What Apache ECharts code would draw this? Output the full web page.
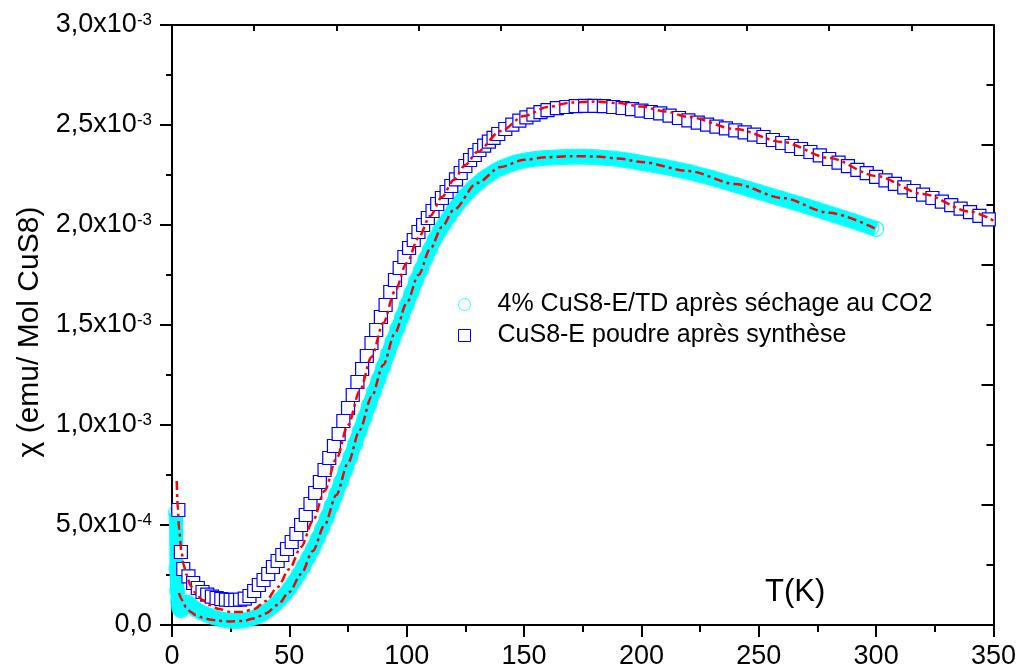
<!DOCTYPE html>
<html><head><meta charset="utf-8">
<script src="https://cdn.jsdelivr.net/npm/echarts/dist/echarts.min.js"></script>
<style>html,body{margin:0;padding:0;background:#fff}#c{width:1019px;height:670px}</style>
</head><body><div id="c"></div>
<script>
// chi values in units of 1e-3 emu/mol
const seriesNames = ['4% CuS8-E/TD après séchage au CO2', 'CuS8-E poudre après synthèse'];
const yAxisTitle = 'χ (emu/ Mol CuS8)';
const xAxisTitle = 'T(K)';
const yTickMantissa = ['0,0', '5,0x10', '1,0x10', '1,5x10', '2,0x10', '2,5x10', '3,0x10'];
const yTickExp = ['', '-4', '-3', '-3', '-3', '-3', '-3'];

const cyanPoints = [
[1.7,0.56],[1.9,0.28],[2.2,0.17],[2.6,0.12],[3,0.09],[3.5,0.076],[4,0.075],[4.5,0.085],[5,0.098],[5.5,0.108],[6,0.112],[7,0.108],[8,0.098],[9,0.088],[10,0.079],
[12,0.065],[14,0.055],[16,0.046],[18,0.038],[20,0.031],[22,0.026],[24,0.022],[26,0.02],[28,0.02],[30,0.022],
[32,0.026],[34,0.032],[36,0.041],[38,0.053],[40,0.067],[42,0.084],[44,0.104],[46,0.127],[48,0.153],[50,0.182],
[52,0.215],[54,0.252],[56,0.292],[58,0.335],[60,0.38],[62,0.43],[64,0.482],[66,0.537],[68,0.595],[70,0.655],
[72,0.715],[74,0.777],[76,0.84],[78,0.905],[80,0.97],[82,1.035],[84,1.10],[86,1.165],[88,1.228],[90,1.29],
[92,1.355],[94,1.42],[96,1.48],[98,1.54],[100,1.60],[102,1.66],[104,1.72],[106,1.775],[108,1.83],[110,1.88],
[112,1.93],[114,1.97],[116,2.005],[118,2.04],[120,2.075],[122,2.105],[124,2.135],[126,2.16],[128,2.185],[130,2.205],
[132,2.225],[134,2.243],[136,2.258],[138,2.272],[140,2.284],[142,2.294],[144,2.303],[146,2.311],[148,2.317],[150,2.322],
[152,2.326],[154,2.329],[156,2.332],[158,2.334],[160,2.336],[162,2.337],[164,2.338],[166,2.339],[168,2.34],[170,2.341],
[172,2.341],[174,2.341],[176,2.341],[178,2.34],[180,2.339],[182,2.338],[184,2.336],[186,2.334],[188,2.332],[190,2.329],
[192,2.326],[194,2.323],[196,2.319],[198,2.315],[200,2.31],[202,2.306],[204,2.302],[206,2.298],[208,2.294],[210,2.29],
[212,2.285],[214,2.28],[216,2.275],[218,2.27],[220,2.265],[222,2.259],[224,2.253],[226,2.247],[228,2.241],[230,2.235],
[232,2.228],[234,2.221],[236,2.214],[238,2.207],[240,2.2],[242,2.193],[244,2.186],[246,2.179],[248,2.172],[250,2.165],
[252,2.158],[254,2.151],[256,2.144],[258,2.137],[260,2.13],[262,2.123],[264,2.116],[266,2.109],[268,2.102],[270,2.095],
[272,2.088],[274,2.08],[276,2.073],[278,2.065],[280,2.058],[282,2.05],[284,2.043],[286,2.035],[288,2.028],[290,2.02],
[292,2.012],[294,2.004],[296,1.996],[298,1.988],[300,1.98]
];

const bluePoints = [
[2.7,0.575],[3.8,0.365],[4.8,0.28],[7,0.243],[9,0.21],[11,0.185],[13,0.165],[15,0.152],[17,0.142],[19,0.135],
[21,0.13],[23,0.127],[25,0.125],[27,0.125],[29,0.127],[31,0.132],[33,0.145],[35,0.17],[37,0.2],[39,0.225],
[41,0.255],[43,0.29],[45,0.32],[47,0.35],[49,0.38],[51,0.415],[53,0.455],[55,0.5],[57,0.55],[59,0.605],
[61,0.66],[63,0.715],[65,0.775],[67,0.835],[69,0.895],[71,0.955],[73,1.02],[75,1.085],[77,1.15],[79,1.215],
[81,1.28],[83,1.345],[85,1.41],[87,1.475],[89,1.54],[91,1.6],[93,1.665],[95,1.725],[97,1.785],[99,1.84],
[101,1.885],[103,1.925],[105,1.965],[107,2.0],[109,2.035],[111,2.07],[113,2.105],[115,2.135],[117,2.165],[119,2.195],
[121,2.228],[123,2.26],[125,2.295],[127,2.325],[129,2.35],[131,2.375],[133,2.397],[135,2.417],[137,2.436],[139,2.455],
[142,2.48],[145,2.502],[148,2.522],[151,2.538],[154,2.552],[157,2.564],[160,2.574],[164,2.584],[168,2.59],[172,2.594],
[176,2.596],[180,2.596],[184,2.594],[188,2.59],[192,2.585],[196,2.579],[200,2.572],[204,2.565],[208,2.558],[212,2.547],
[216,2.535],[220,2.523],[224,2.512],[228,2.502],[232,2.492],[236,2.483],[240,2.473],[244,2.463],[248,2.452],[252,2.44],
[256,2.425],[260,2.41],[264,2.395],[268,2.38],[272,2.365],[276,2.348],[280,2.33],[284,2.312],[288,2.294],[292,2.276],
[296,2.259],[300,2.241],[304,2.223],[308,2.206],[312,2.188],[316,2.17],[320,2.152],[324,2.135],[328,2.117],[332,2.099],
[336,2.082],[340,2.064],[344,2.046],[348,2.028]
];

const blueFit = [
[2,0.72],[2.5,0.58],[3,0.48],[4,0.37],[5,0.3],[6,0.255],[8,0.195],[10,0.16],[13,0.125],[16,0.1],[20,0.08],
[25,0.065],[30,0.065],[35,0.08],[40,0.12],[45,0.19],[50,0.28],[55,0.39],[60,0.52],[65,0.67],[70,0.83],[75,1.0],
[80,1.17],[85,1.34],[90,1.51],[95,1.67],[100,1.81],[105,1.935],[110,2.045],[115,2.14],[120,2.225],[125,2.3],
[130,2.365],[140,2.47],[150,2.545],[160,2.59],[170,2.612],[180,2.617],[190,2.61],[200,2.592],[210,2.568],[220,2.54],
[240,2.48],[260,2.415],[280,2.335],[300,2.245],[320,2.155],[340,2.067],[350,2.022]
];

const cyanFit = [
[3,0.16],[4,0.13],[5,0.105],[6,0.088],[8,0.065],[10,0.05],[13,0.037],[16,0.028],[20,0.021],[25,0.018],[30,0.02],
[35,0.032],[40,0.058],[45,0.1],[50,0.165],[55,0.255],[60,0.37],[65,0.5],[70,0.65],[75,0.81],[80,0.975],[85,1.14],
[90,1.3],[95,1.46],[100,1.61],[105,1.75],[110,1.88],[115,1.99],[120,2.075],[130,2.21],[140,2.29],[150,2.326],
[160,2.339],[170,2.344],[180,2.343],[190,2.333],[200,2.315],[220,2.27],[240,2.205],[260,2.135],[280,2.061],[300,1.98]
];

const FONT = '"Liberation Sans", Arial, sans-serif';
const chart = echarts.init(document.getElementById('c'), null, {renderer: 'canvas'});
const blackLine = {color: '#000', width: 2};
const fitStyle = {color: '#ff0000', width: 2.5, type: [9, 4, 3, 4]};

chart.setOption({
  animation: false,
  backgroundColor: '#fff',
  grid: {left: 172, right: 24, top: 25, bottom: 43},
  xAxis: [
    {type: 'value', position: 'bottom', min: 0, max: 350, interval: 50,
     axisLine: {show: true, onZero: false, lineStyle: blackLine},
     axisTick: {show: true, inside: false, length: 12, lineStyle: blackLine},
     minorTick: {show: true, splitNumber: 2, length: 7, lineStyle: blackLine},
     axisLabel: {fontSize: 27, fontFamily: FONT, color: '#000', margin: 18},
     splitLine: {show: false}, minorSplitLine: {show: false}},
    {type: 'value', position: 'top', min: 0, max: 350, interval: 35,
     axisLine: {show: true, onZero: false, lineStyle: blackLine},
     axisTick: {show: true, inside: true, length: 6, lineStyle: blackLine},
     axisLabel: {show: false}, splitLine: {show: false}}
  ],
  yAxis: [
    {type: 'value', position: 'left', min: 0, max: 3, interval: 0.5,
     name: yAxisTitle, nameLocation: 'middle', nameRotate: 90, nameGap: 127,
     nameTextStyle: {fontSize: 30, fontFamily: FONT, color: '#000', padding: [0, 14, 0, 0]},
     axisLine: {show: true, onZero: false, lineStyle: blackLine},
     axisTick: {show: true, inside: false, length: 12, lineStyle: blackLine},
     minorTick: {show: true, splitNumber: 2, length: 6, lineStyle: blackLine},
     axisLabel: {margin: 20, color: '#000',
       formatter: function (v) {
         const i = Math.round(v / 0.5);
         return yTickExp[i] ? '{m|' + yTickMantissa[i] + '}{s|' + yTickExp[i] + '}' : '{m|' + yTickMantissa[i] + '}';
       },
       rich: {
         m: {fontSize: 27, fontFamily: FONT, color: '#000', lineHeight: 27},
         s: {fontSize: 17, fontFamily: FONT, color: '#000', verticalAlign: 'top', lineHeight: 17}
       }},
     splitLine: {show: false}, minorSplitLine: {show: false}},
    {type: 'value', position: 'right', min: 0, max: 3, interval: 0.6,
     axisLine: {show: true, onZero: false, lineStyle: blackLine},
     axisTick: {show: true, inside: true, length: 12, lineStyle: blackLine},
     minorTick: {show: true, splitNumber: 2, length: 7, lineStyle: blackLine},
     axisLabel: {show: false}, splitLine: {show: false}, minorSplitLine: {show: false}}
  ],
  legend: {
    orient: 'vertical', left: 453, top: 287, itemWidth: 56, itemHeight: 12, itemGap: 6,
    selectedMode: false,
    textStyle: {fontSize: 25, lineHeight: 25, fontFamily: FONT, color: '#000'},
    data: [
      {name: seriesNames[0], icon: 'circle', itemStyle: {color: '#fff', borderColor: '#00ffff', borderWidth: 1}},
      {name: seriesNames[1], icon: 'path://M0,0L10,0L10,10L0,10Z', itemStyle: {color: '#fff', borderColor: '#0000ff', borderWidth: 1}}
    ]
  },
  graphic: [
    {type: 'text', x: 765, y: 592, silent: true,
     style: {text: xAxisTitle, fontSize: 31, fontFamily: FONT, fill: '#000', align: 'left', verticalAlign: 'middle'}}
  ],
  series: [
    {type: 'line', name: 'cyan-band', data: cyanPoints, showSymbol: false, silent: true, z: 2,
     lineStyle: {color: '#00ffff', width: 14, cap: 'butt', join: 'round'}},
    {type: 'scatter', name: seriesNames[0], data: cyanPoints, symbol: 'circle', symbolSize: 15, z: 3,
     itemStyle: {color: 'rgba(0,0,0,0)', borderColor: '#00ffff', borderWidth: 1.3}},
    {type: 'scatter', name: seriesNames[1], data: bluePoints, symbol: 'rect', symbolSize: 13, z: 4,
     itemStyle: {color: '#ffffff', borderColor: '#0000ff', borderWidth: 1.2, opacity: 1}},
    {type: 'line', name: 'fit-blue', data: blueFit, showSymbol: false, smooth: 0.3, smoothMonotone: 'x', z: 5,
     lineStyle: fitStyle},
    {type: 'line', name: 'fit-cyan', data: cyanFit, showSymbol: false, smooth: 0.3, smoothMonotone: 'x', z: 5,
     lineStyle: fitStyle}
  ]
});
</script>
</body></html>
